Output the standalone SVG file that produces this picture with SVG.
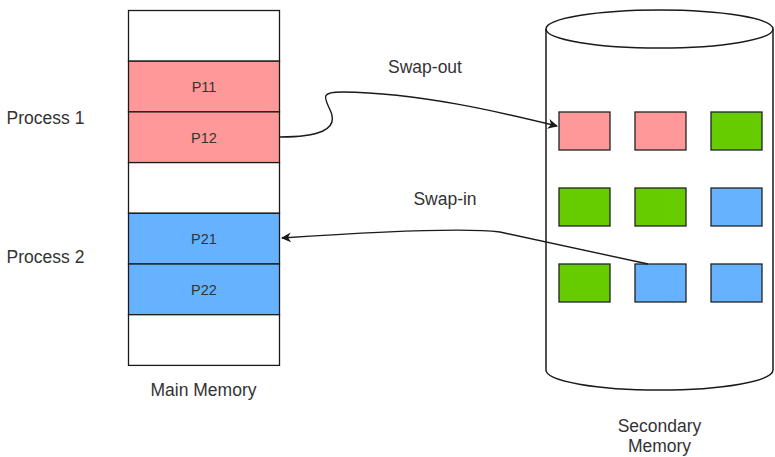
<svg xmlns="http://www.w3.org/2000/svg" width="775" height="457" viewBox="0 0 775 457">
<style>
.cell{stroke:#1a1a1a;stroke-width:1.3}
.w{fill:#ffffff}
.r{fill:#ff9999}
.b{fill:#66b2ff}
.g{fill:#66cc00}
.blk{stroke:#222;stroke-width:1.3}
.lbl{font-family:"Liberation Sans",Arial,sans-serif;font-size:17.5px;fill:#333;text-anchor:middle}
.pl{font-family:"Liberation Sans",Arial,sans-serif;font-size:14.5px;fill:#333;text-anchor:middle}
.conn{fill:none;stroke:#1a1a1a;stroke-width:1.4}
</style>
<defs>
<marker id="arr" markerWidth="10" markerHeight="10" refX="9" refY="5" orient="auto" markerUnits="userSpaceOnUse">
<path d="M0,0 L10,5 L0,10 L3,5 Z" fill="#1a1a1a"/>
</marker>
</defs>
<rect width="775" height="457" fill="#ffffff"/>
<g id="main-memory">
<rect class="cell w" x="128.5" y="10.5" width="151" height="50.7"/>
<rect class="cell r" x="128.5" y="61.2" width="151" height="50.7"/>
<rect class="cell r" x="128.5" y="111.9" width="151" height="50.7"/>
<rect class="cell w" x="128.5" y="162.6" width="151" height="50.7"/>
<rect class="cell b" x="128.5" y="213.3" width="151" height="50.7"/>
<rect class="cell b" x="128.5" y="264" width="151" height="50.7"/>
<rect class="cell w" x="128.5" y="314.7" width="151" height="50.7"/>
<text class="pl" x="204" y="92">P11</text>
<text class="pl" x="204" y="142.5">P12</text>
<text class="pl" x="204" y="243.5">P21</text>
<text class="pl" x="204" y="294.5">P22</text>
<text class="lbl" x="203.5" y="396">Main Memory</text>
</g>
<g id="process-labels">
<text class="lbl" x="45.5" y="124">Process 1</text>
<text class="lbl" x="45.5" y="263">Process 2</text>
</g>
<g id="secondary-memory">
<path d="M546,29 A113.5,19 0 0 1 773,29 L773,370 A113.5,20 0 0 1 546,370 Z" fill="#ffffff" stroke="#1a1a1a" stroke-width="1.5"/>
<path d="M546,29 A113.5,19 0 0 0 773,29" fill="none" stroke="#1a1a1a" stroke-width="1.5"/>
<rect class="blk r" x="559" y="112" width="51" height="38"/>
<rect class="blk r" x="635" y="112" width="51" height="38"/>
<rect class="blk g" x="711" y="112" width="51" height="38"/>
<rect class="blk g" x="559" y="188" width="51" height="38"/>
<rect class="blk g" x="635" y="188" width="51" height="38"/>
<rect class="blk b" x="711" y="188" width="51" height="38"/>
<rect class="blk g" x="559" y="264" width="51" height="38"/>
<rect class="blk b" x="635" y="264" width="51" height="38"/>
<rect class="blk b" x="711" y="264" width="51" height="38"/>
<text class="lbl" x="659.5" y="432">Secondary</text>
<text class="lbl" x="659.5" y="452">Memory</text>
</g>
<g id="connectors">
<path class="conn" marker-end="url(#arr)" d="M280,137 C318,137 338,130 331,112 C324,97 320,92 342,92 C420,93 500,112 557,126"/>
<path class="conn" marker-end="url(#arr)" d="M648,264 L500,232 C470,228 400,230 282,238"/>
<text class="lbl" x="425" y="73">Swap-out</text>
<text class="lbl" x="445" y="205">Swap-in</text>
</g>
</svg>
